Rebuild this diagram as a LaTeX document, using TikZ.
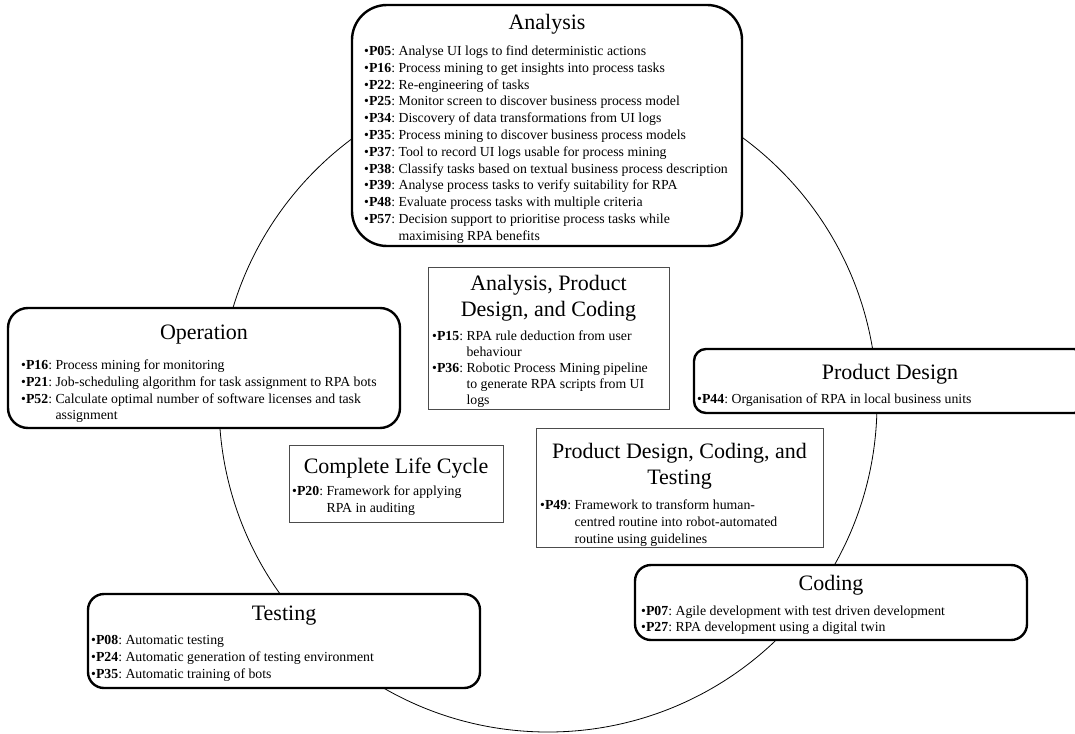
\documentclass[tikz,border=0pt]{standalone}
\usepackage{fontspec}
\setmainfont{Liberation Serif}
\usepackage{array}
\newcommand{\pid}[1]{•\textbf{#1}:}
\newenvironment{plist}{\begin{tabular}[t]{@{}l@{\ }l@{}}}{\end{tabular}}
\tikzset{
  phase/.style={draw, fill=white, line width=2.4pt, rounded corners=#1, inner sep=0pt},
  combo/.style={draw=black!70, fill=white, line width=0.9pt, inner sep=0pt},
  ttl/.style={font=\fontsize{22}{26}\selectfont, inner sep=0pt, anchor=base, align=center},
  lst/.style={font=\fontsize{13.8}{16.8}\selectfont, inner sep=0pt, anchor=base west},
  tightlst/.style={lst, font=\fontsize{13.8}{16}\selectfont},
}
\begin{document}
\begin{tikzpicture}[x=1pt, y=-1pt]
  \clip (0,0) rectangle (1075,733);
  \fill[white] (0,0) rectangle (1075,733);

  % life-cycle ring behind the phase boxes
  \node[circle, draw, line width=0.8pt, minimum size=658pt, inner sep=0pt] (ring) at (548,403) {};

  % phase boxes on the ring
  \node[phase=35pt, minimum width=390pt, minimum height=241pt] (ana) at (547,125.5) {};
  \node[phase=20pt, minimum width=392pt, minimum height=120pt] (ope) at (204,368) {};
  \node[phase=12pt, minimum width=392pt, minimum height=64pt] (pd) at (890,381) {};
  \node[phase=16pt, minimum width=392pt, minimum height=75pt] (cod) at (831,602.5) {};
  \node[phase=16pt, minimum width=392pt, minimum height=94pt] (tes) at (284,641) {};

  % boxes for studies spanning several phases
  \node[combo, minimum width=241pt, minimum height=142pt] (apdc) at (548.5,338) {};
  \node[combo, minimum width=214pt, minimum height=77pt] (clc) at (396,483.5) {};
  \node[combo, minimum width=287pt, minimum height=119pt] (pdct) at (679.5,487.5) {};

  % Analysis
  \node[ttl] (anaT) at (547,30) {Analysis};
  \node[lst] (anaL) at (364,55.5) {\begin{plist}
    \pid{P05} & Analyse UI logs to find deterministic actions\\
    \pid{P16} & Process mining to get insights into process tasks\\
    \pid{P22} & Re-engineering of tasks\\
    \pid{P25} & Monitor screen to discover business process model\\
    \pid{P34} & Discovery of data transformations from UI logs\\
    \pid{P35} & Process mining to discover business process models\\
    \pid{P37} & Tool to record UI logs usable for process mining\\
    \pid{P38} & Classify tasks based on textual business process description\\
    \pid{P39} & Analyse process tasks to verify suitability for RPA\\
    \pid{P48} & Evaluate process tasks with multiple criteria\\
    \pid{P57} & Decision support to prioritise process tasks while\\
              & maximising RPA benefits
  \end{plist}};

  % Operation
  \node[ttl] (opeT) at (204,339) {Operation};
  \node[lst] (opeL) at (21,369.5) {\begin{plist}
    \pid{P16} & Process mining for monitoring\\
    \pid{P21} & Job-scheduling algorithm for task assignment to RPA bots\\
    \pid{P52} & Calculate optimal number of software licenses and task\\
              & assignment
  \end{plist}};

  % Product Design
  \node[ttl] (pdT) at (890,379) {Product Design};
  \node[lst] (pdL) at (697,403.5) {\begin{plist}
    \pid{P44} & Organisation of RPA in local business units
  \end{plist}};

  % Coding
  \node[ttl] (codT) at (831,590) {Coding};
  \node[lst] (codL) at (641,615) {\begin{plist}
    \pid{P07} & Agile development with test driven development\\
    \pid{P27} & RPA development using a digital twin
  \end{plist}};

  % Testing
  \node[ttl] (tesT) at (284,620.5) {Testing};
  \node[lst] (tesL) at (91,644.5) {\begin{plist}
    \pid{P08} & Automatic testing\\
    \pid{P24} & Automatic generation of testing environment\\
    \pid{P35} & Automatic training of bots
  \end{plist}};

  % Analysis, Product Design, and Coding
  \node[ttl] (apdcT) at (548.5,290.5) {\begin{tabular}[t]{@{}c@{}}Analysis, Product\\Design, and Coding\end{tabular}};
  \node[tightlst] (apdcL) at (432,340) {\begin{plist}
    \pid{P15} & RPA rule deduction from user\\
              & behaviour\\
    \pid{P36} & Robotic Process Mining pipeline\\
              & to generate RPA scripts from UI\\
              & logs
  \end{plist}};

  % Complete Life Cycle
  \node[ttl] (clcT) at (396,473) {Complete Life Cycle};
  \node[lst] (clcL) at (292,495.5) {\begin{plist}
    \pid{P20} & Framework for applying\\
              & RPA in auditing
  \end{plist}};

  % Product Design, Coding, and Testing
  \node[ttl] (pdctT) at (679.5,458) {\begin{tabular}[t]{@{}c@{}}Product Design, Coding, and\\Testing\end{tabular}};
  \node[lst] (pdctL) at (540,509.5) {\begin{plist}
    \pid{P49} & Framework to transform human-\\
              & centred routine into robot-automated\\
              & routine using guidelines
  \end{plist}};
\end{tikzpicture}
\end{document}
